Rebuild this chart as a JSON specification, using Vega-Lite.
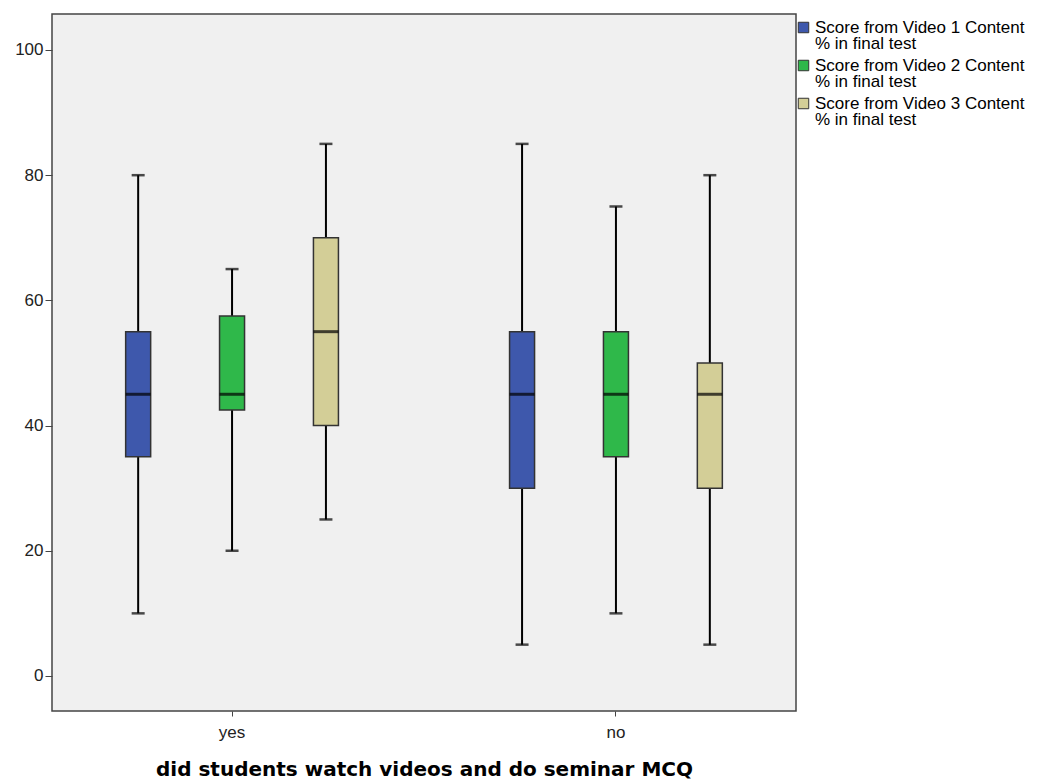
{
  "$schema": "https://vega.github.io/schema/vega-lite/v6.json",
  "autosize": "none",
  "width": 744,
  "height": 697,
  "padding": {"left": 52, "top": 14, "right": 244, "bottom": 70},
  "background": "white",
  "config": {
    "view": {"fill": "#f0f0f0", "stroke": "#444444", "strokeWidth": 1.5},
    "font": "Liberation Sans",
    "style": {"guide-label": {"lineHeight": 16}}
  },
  "data": {
    "values": [
      {"group": "yes", "series": "Score from Video 1 Content|% in final test", "min": 10, "q1": 35, "median": 45, "q3": 55, "max": 80},
      {"group": "yes", "series": "Score from Video 2 Content|% in final test", "min": 20, "q1": 42.5, "median": 45, "q3": 57.5, "max": 65},
      {"group": "yes", "series": "Score from Video 3 Content|% in final test", "min": 25, "q1": 40, "median": 55, "q3": 70, "max": 85},
      {"group": "no", "series": "Score from Video 1 Content|% in final test", "min": 5, "q1": 30, "median": 45, "q3": 55, "max": 85},
      {"group": "no", "series": "Score from Video 2 Content|% in final test", "min": 10, "q1": 35, "median": 45, "q3": 55, "max": 75},
      {"group": "no", "series": "Score from Video 3 Content|% in final test", "min": 5, "q1": 30, "median": 45, "q3": 50, "max": 80}
    ]
  },
  "encoding": {
    "x": {
      "field": "group", "type": "nominal", "sort": ["yes", "no"],
      "scale": {"paddingInner": 0.1, "paddingOuter": 0.019},
      "axis": {
        "title": "did students watch videos and do seminar MCQ",
        "titleFont": "DejaVu Sans", "titleFontWeight": "bold", "titleFontSize": 20, "titleColor": "#000000",
        "titlePadding": 19,
        "labelAngle": 0, "labelFontSize": 17, "labelColor": "#222222", "labelPadding": 8,
        "tickSize": 5, "tickColor": "#444444", "domain": false
      }
    },
    "xOffset": {
      "field": "series", "type": "nominal",
      "scale": {"paddingInner": 0, "paddingOuter": 0.34}
    }
  },
  "layer": [
    {
      "mark": {"type": "rule", "color": "#000000", "strokeWidth": 2},
      "encoding": {
        "y": {"field": "min", "type": "quantitative",
          "scale": {"domain": [-5.6, 105.75], "nice": false, "zero": false},
          "axis": {"title": null, "values": [0, 20, 40, 60, 80, 100], "grid": false, "domain": false,
            "labelFontSize": 17, "labelColor": "#222222", "tickSize": 7, "tickColor": "#444444", "labelPadding": 2}},
        "y2": {"field": "max"}
      }
    },
    {
      "mark": {"type": "tick", "color": "#000000", "orient": "horizontal", "size": 13, "thickness": 2.5},
      "encoding": {"y": {"field": "min", "type": "quantitative"}}
    },
    {
      "mark": {"type": "tick", "color": "#000000", "orient": "horizontal", "size": 13, "thickness": 2.5},
      "encoding": {"y": {"field": "max", "type": "quantitative"}}
    },
    {
      "mark": {"type": "bar", "size": 25, "stroke": "#333333", "strokeWidth": 1.5, "opacity": 1},
      "encoding": {
        "y": {"field": "q1", "type": "quantitative"},
        "y2": {"field": "q3"},
        "fill": {
          "field": "series", "type": "nominal",
          "scale": {"range": ["#3e58ac", "#2fb84a", "#d3ce97"]},
          "legend": {
            "title": null, "orient": "none", "legendX": 743, "legendY": 5,
            "symbolType": "square", "symbolSize": 110, "symbolStrokeColor": "#333333", "symbolStrokeWidth": 1,
            "labelExpr": "split(datum.label, '|')",
            "labelFontSize": 17, "labelColor": "#000000", "labelLimit": 300, "labelOffset": 3,
            "rowPadding": 4, "labelBaseline": "middle"
          }
        }
      }
    },
    {
      "mark": {"type": "tick", "color": "#000000", "orient": "horizontal", "size": 25, "thickness": 3},
      "encoding": {"y": {"field": "median", "type": "quantitative"}}
    }
  ]
}
